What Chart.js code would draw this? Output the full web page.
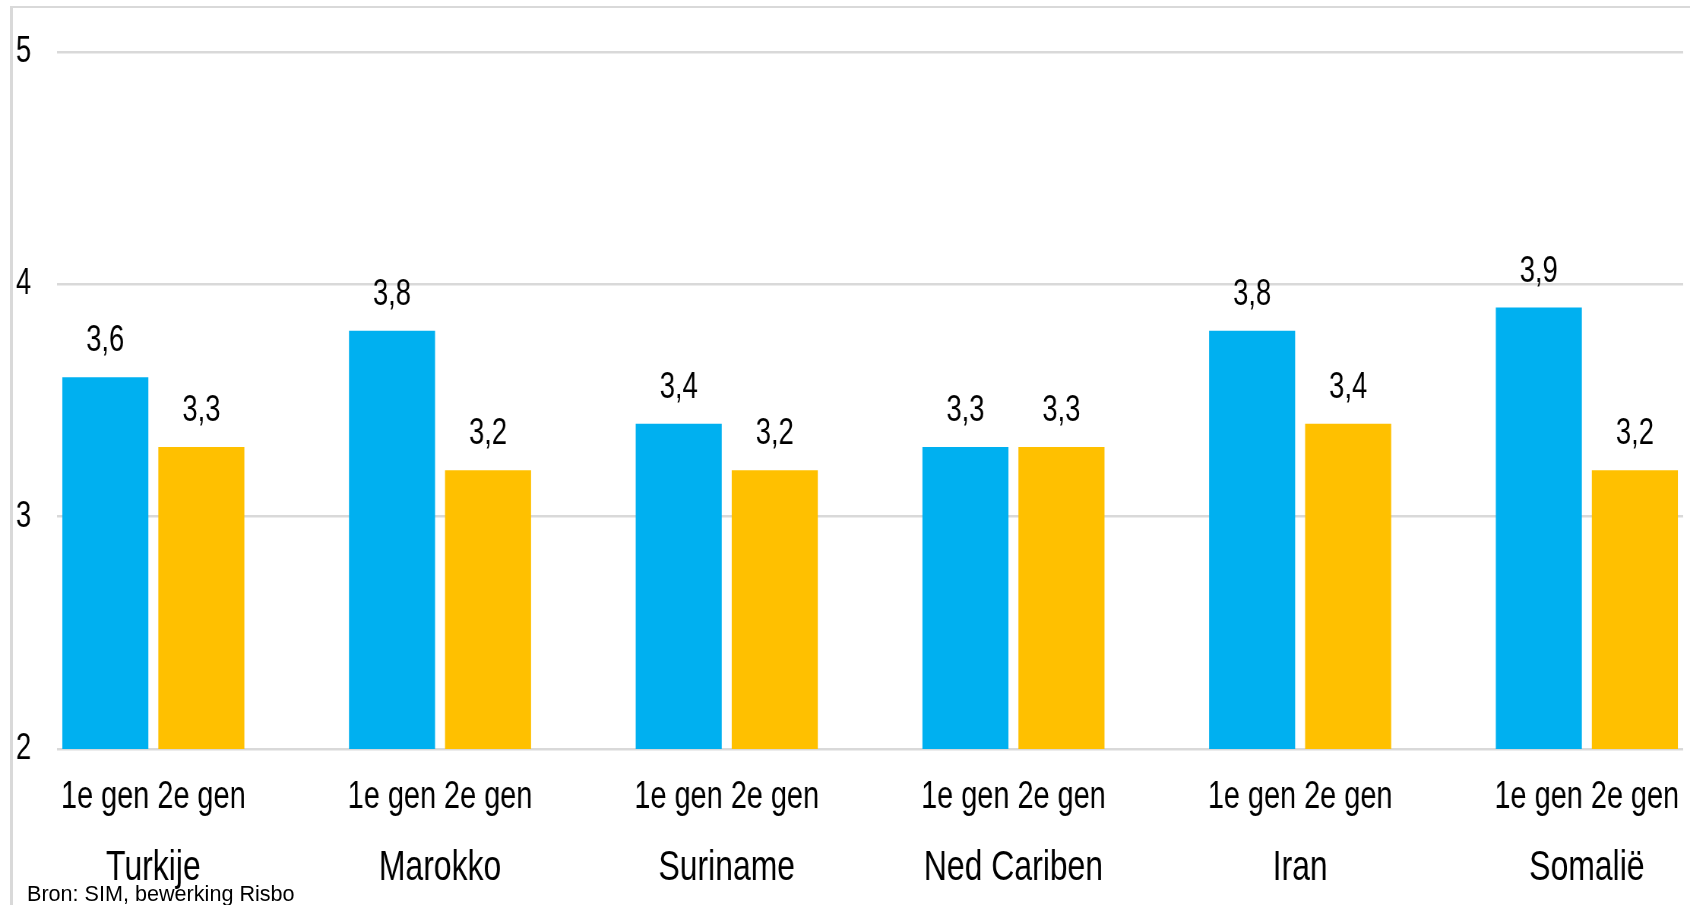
<!DOCTYPE html>
<html>
<head>
<meta charset="utf-8">
<script src="https://cdn.jsdelivr.net/npm/chart.js@4"></script>
<style>
  html, body { margin: 0; padding: 0; background: #fff; overflow: hidden; }
  #slide { position: relative; width: 1690px; height: 905px; overflow: hidden; }
  #frame { position: absolute; left: 10px; top: 6px; right: -10px; bottom: -10px;
           border-top: 2px solid #d9d9d9; border-left: 3px solid #d9d9d9; }
  #chart { position: absolute; left: 0; top: 0; transform-origin: 0 0; }
  #bron { position: absolute; left: 27px; top: 883px; color: #000; white-space: nowrap;
          font: 21.6px/21px "Liberation Sans", Arial, sans-serif; }
</style>
</head>
<body>
<div id="slide">
  <div id="frame"></div>
  <canvas id="chart" width="2224" height="905"></canvas>
  <div id="bron">Bron: SIM, bewerking Risbo</div>
</div>
<script>
// data
const countries = ["Turkije", "Marokko", "Suriname", "Ned Cariben", "Iran", "Somalië"];
const seriesNames = ["1e gen", "2e gen"];
const gen1 = [3.6, 3.8, 3.4, 3.3, 3.8, 3.9];
const gen2 = [3.3, 3.2, 3.2, 3.3, 3.4, 3.2];
const yTicks = [2, 3, 4, 5];

// the reference uses a narrow font, so the whole canvas is squeezed sideways
const canvas = document.getElementById("chart");
canvas.style.transform = "scaleX(" + (1690 / canvas.width) + ")";

Chart.defaults.font.family = "'Liberation Sans', Arial, sans-serif";
Chart.defaults.color = "#000";

const catTicks = s => { s.ticks = countries.map((c, i) => ({ value: i })); };
const fitX = h => s => { s.height = h; s.paddingLeft = 0; s.paddingRight = 0; };

const valueLabels = {
  id: "valueLabels",
  afterDatasetsDraw(chart) {
    const ctx = chart.ctx;
    ctx.save();
    ctx.font = "36px 'Liberation Sans', Arial, sans-serif";
    ctx.fillStyle = "#000";
    ctx.textAlign = "center";
    ctx.textBaseline = "alphabetic";
    chart.data.datasets.forEach((ds, di) => {
      chart.getDatasetMeta(di).data.forEach((bar, i) => {
        ctx.fillText(ds.data[i].y.toFixed(1).replace(".", ","), bar.x, bar.y - 26);
      });
    });
    ctx.restore();
  }
};

new Chart(canvas, {
  type: "bar",
  data: {
    datasets: [
      { label: seriesNames[0], data: gen1.map((v, i) => ({ x: i, y: v })), backgroundColor: "#00B0F0" },
      { label: seriesNames[1], data: gen2.map((v, i) => ({ x: i, y: v })), backgroundColor: "#FFC000" }
    ]
  },
  options: {
    responsive: false,
    animation: false,
    devicePixelRatio: 1,
    categoryPercentage: 0.67,
    barPercentage: 0.896,
    layout: { padding: { left: 21, right: 9, top: 52, bottom: 0 } },
    scales: {
      x: {
        type: "linear", position: "bottom", weight: 0, offset: false,
        min: -0.336, max: 5.336,
        afterBuildTicks: catTicks,
        afterFit: fitX(80),
        grid: { display: false }, border: { display: false },
        ticks: { font: { size: 38 }, padding: 18, maxRotation: 0, autoSkip: false,
                 callback: () => seriesNames.join(" ") }
      },
      x2: {
        type: "linear", position: "bottom", weight: 1, offset: false,
        min: -0.336, max: 5.336,
        afterBuildTicks: catTicks,
        afterFit: fitX(76),
        grid: { display: false }, border: { display: false },
        ticks: { font: { size: 42 }, padding: 6, maxRotation: 0, autoSkip: false,
                 callback: v => countries[v] }
      },
      y: {
        min: 2, max: 5,
        afterBuildTicks: s => { s.ticks = yTicks.map(v => ({ value: v })); },
        afterFit: s => { s.width = 54; },
        grid: { color: "#d9d9d9", lineWidth: 2.5, drawTicks: false },
        border: { display: false },
        ticks: { font: { size: 36 }, crossAlign: "far", callback: v => String(v) }
      }
    },
    plugins: {
      legend: { display: false },
      tooltip: { enabled: false },
      title: { display: false }
    }
  },
  plugins: [valueLabels]
});
</script>
</body>
</html>
